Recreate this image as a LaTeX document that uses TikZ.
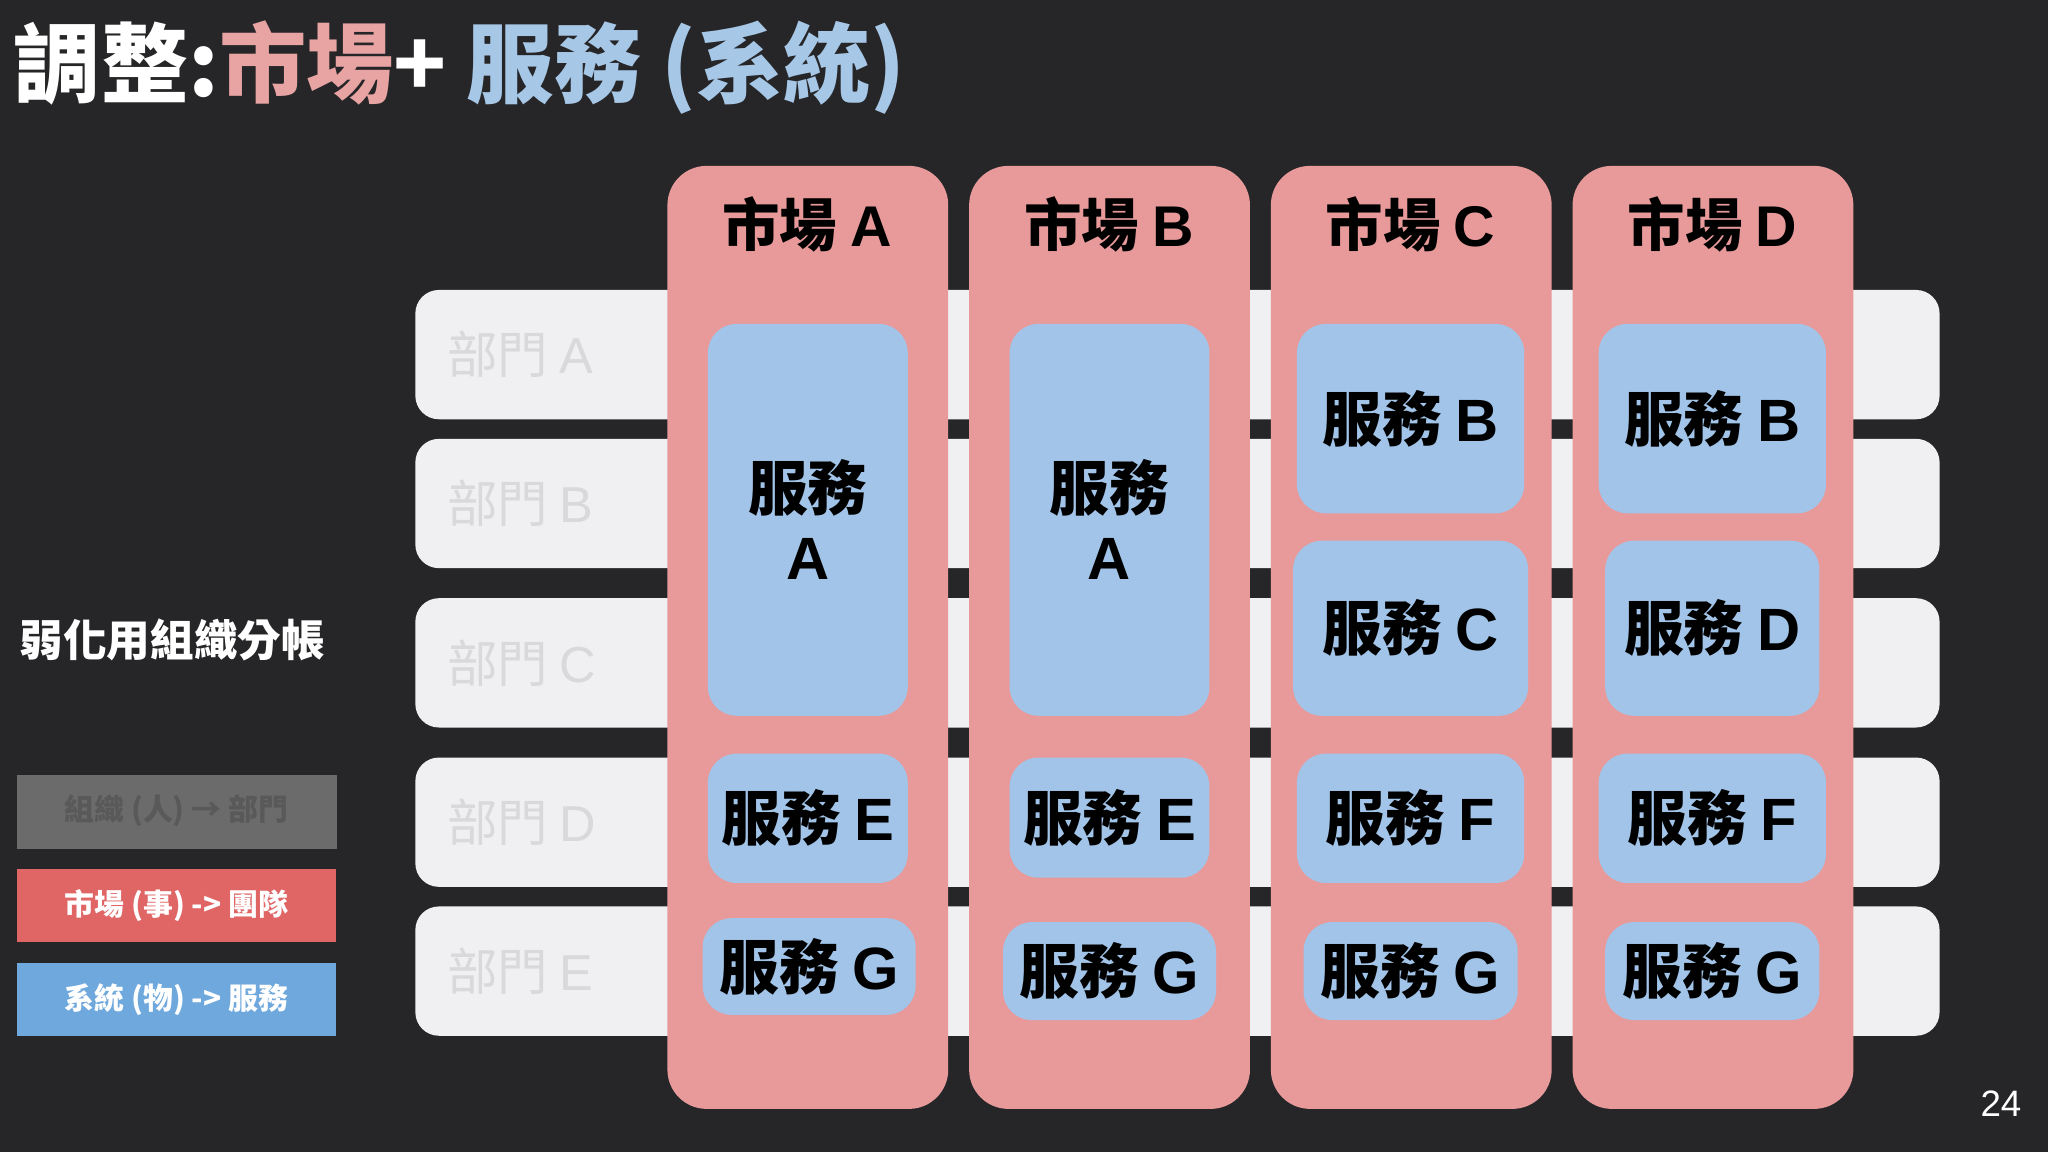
\documentclass[tikz,border=0pt]{standalone}
\usepackage{fontspec}
\setmainfont{Noto Sans CJK TC}
\setsansfont{Liberation Sans}
\definecolor{bg}{HTML}{262628}
\definecolor{rowc}{HTML}{F0EFF2}
\definecolor{mkt}{HTML}{E89A9B}
\definecolor{svc}{HTML}{A1C4E8}
\definecolor{tpink}{HTML}{E8A3A3}
\definecolor{tblue}{HTML}{A7C7E7}
\definecolor{lgray}{HTML}{6B6B6B}
\definecolor{lred}{HTML}{E06666}
\definecolor{lblue}{HTML}{6FA8DC}
\definecolor{dtxt}{HTML}{D9D9DC}
\tikzset{
 rowbox/.style={fill=rowc,rounded corners=0.18cm},
 mktbox/.style={fill=mkt,rounded corners=0.3cm},
 svcbox/.style={fill=svc,rounded corners=0.22cm},
 svct/.style={font=\bfseries\fontsize{13}{15}\selectfont,text=black,align=center},
 mktt/.style={font=\bfseries\fontsize{12.5}{14}\selectfont,text=black},
 dept/.style={font=\fontsize{11}{13}\selectfont,text=dtxt,anchor=west},
 leg/.style={font=\bfseries\fontsize{6.5}{8}\selectfont}
}
\begin{document}
\begin{tikzpicture}[x=0.01cm,y=-0.01cm]
\fill[bg] (0,0) rectangle (1568,882);
\useasboundingbox (0,0) rectangle (1568,882);
\node[anchor=west,font=\bfseries\fontsize{19}{22}\selectfont,inner sep=0] (title) at (10,52)
 {\textcolor{white}{調整:}\textcolor{tpink}{市場}\textcolor{white}{ + }\textcolor{tblue}{服務 (系統)}};
% rows
\foreach \n/\a/\b in {A/222/321,B/336/435,C/458/557,D/580/679,E/694/793}{
 \fill[rowbox] (318,\a) rectangle (1485,\b);
 \node[dept] (d\n) at (330,{(\a+\b)/2}) {部門 \textsf{\n}};
}
% markets
\foreach \n/\x in {A/511,B/742,C/973,D/1204}{
 \fill[mktbox] (\x,127) rectangle ({\x+215},849);
 \node[mktt] (m\n) at ({\x+107},172) {市場 \textsf{\n}};
}
\newcommand{\svcx}[6]{\fill[svcbox] (#1,#2) rectangle (#3,#4);
 \node[svct] (#5) at ({(#1+#3)/2},{(#2+#4)/2}) {#6};}
\svcx{542}{248}{695}{548}{aA}{服務\\\textsf{A}}
\svcx{542}{577}{695}{676}{aE}{服務 \textsf{E}}
\svcx{538}{703}{701}{777}{aG}{服務 \textsf{G}}
\svcx{773}{248}{926}{548}{bA}{服務\\\textsf{A}}
\svcx{773}{580}{926}{672}{bE}{服務 \textsf{E}}
\svcx{768}{706}{931}{781}{bG}{服務 \textsf{G}}
\svcx{993}{248}{1167}{393}{cB}{服務 \textsf{B}}
\svcx{990}{414}{1170}{548}{cC}{服務 \textsf{C}}
\svcx{993}{577}{1167}{676}{cF}{服務 \textsf{F}}
\svcx{998}{706}{1162}{781}{cG}{服務 \textsf{G}}
\svcx{1224}{248}{1398}{393}{dB}{服務 \textsf{B}}
\svcx{1229}{414}{1393}{548}{dD}{服務 \textsf{D}}
\svcx{1224}{577}{1398}{676}{dF}{服務 \textsf{F}}
\svcx{1229}{706}{1393}{781}{dG}{服務 \textsf{G}}
% left
\node[font=\bfseries\fontsize{9.5}{11}\selectfont,text=white] (weak) at (132,490) {弱化用組織分帳};
\fill[lgray] (13,593) rectangle (258,650);
\node[leg,text=black!65] (l1) at (135,621) {組織 (人) → 部門};
\fill[lred] (13,665) rectangle (257,721);
\node[leg,text=white] (l2) at (135,693) {市場 (事) -> 團隊};
\fill[lblue] (13,737) rectangle (257,793);
\node[leg,text=white] (l3) at (135,765) {系統 (物) -> 服務};
\node[font=\sffamily\fontsize{8}{9}\selectfont,text=white] (pg) at (1532,845) {24};
\end{tikzpicture}
\end{document}
